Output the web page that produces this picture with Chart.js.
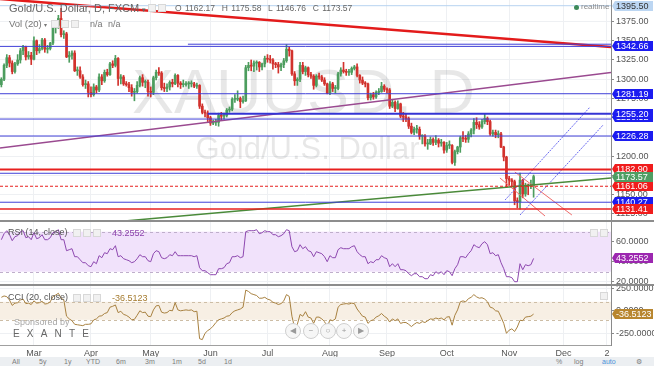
<!DOCTYPE html>
<html>
<head>
<meta charset="utf-8">
<title>XAUUSD, D</title>
<script src="https://cdn.jsdelivr.net/npm/chart.js@4.4.0/dist/chart.umd.min.js"></script>
<style>
  body { margin: 0; background: #fff; font-family: "Liberation Sans", Arial, sans-serif; }
  #wrap { position: relative; width: 654px; height: 366px; overflow: hidden; }
  canvas { position: absolute; left: 0; }
  .txt { position: absolute; white-space: nowrap; color: #555; line-height: 1; }
  .sep { position: absolute; left: 0; width: 654px; height: 2px; background: #8d8d8d; }
  .ico { position: absolute; width: 6px; height: 6px; border: 1px solid #d8d8d8; background: #f1f1f1; }
  .nav { position: absolute; width: 14px; height: 14px; border: 1px solid #cfcfcf; border-radius: 50%;
         background: #f6f6f6; color: #9a9a9a; font-size: 8px; line-height: 14px; text-align: center; }
  #toolbar { position: absolute; left: 0; top: 357px; width: 654px; height: 9px; background: #eceff2; }
  #toolbar span { position: absolute; top: 1px; font-size: 7px; color: #7d7d7d; }
</style>
</head>
<body>
<div id="wrap">
  <canvas id="priceChart" width="654" height="228" style="top:0"></canvas>
  <canvas id="rsiChart" width="654" height="75" style="top:216px"></canvas>
  <canvas id="cciChart" width="654" height="78" style="top:279px"></canvas>

  <div class="sep" style="top:220px"></div>
  <div class="sep" style="top:284px"></div>

  <div class="txt" style="left:9px;top:3px;font-size:11px;color:#666">Gold/U.S. Dollar, D, FXCM <span style="font-size:7px">▾</span></div>
  <div class="ico" style="left:148px;top:4px"></div>
  <div class="ico" style="left:158px;top:4px"></div>
  <div class="txt" style="left:175px;top:4px;font-size:8.5px;color:#666;word-spacing:1px">O 1162.17 &nbsp;H 1175.58 &nbsp;L 1146.76 &nbsp;C 1173.57</div>
  <div class="txt" style="left:9px;top:19px;font-size:9.5px;color:#777">Vol (20) <span style="font-size:6px">▾</span></div>
  <div class="ico" style="left:51px;top:20px"></div>
  <div class="ico" style="left:61px;top:20px"></div>
  <div class="ico" style="left:71px;top:20px"></div>
  <div class="txt" style="left:90px;top:20px;font-size:9px;color:#777">n/a</div>
  <div class="txt" style="left:108px;top:20px;font-size:9px;color:#777">n/a</div>
  <div style="position:absolute;left:574px;top:5px;width:5px;height:5px;border-radius:50%;background:#3d8a5a"></div>
  <div class="txt" style="left:581px;top:3px;font-size:8px;color:#8a8a8a">realtime</div>

  <div class="txt" style="left:8px;top:228px;font-size:9px;color:#555">RSI (14, close)</div>
  <div class="ico" style="left:73px;top:229px"></div>
  <div class="ico" style="left:83px;top:229px"></div>
  <div class="ico" style="left:93px;top:229px"></div>
  <div class="txt" style="left:112px;top:229px;font-size:9px;color:#8e44ad">43.2552</div>
  <div class="ico" style="left:590px;top:229px"></div>
  <div class="ico" style="left:600px;top:229px"></div>

  <div class="txt" style="left:8px;top:293px;font-size:9px;color:#555">CCI (20, close)</div>
  <div class="ico" style="left:73px;top:294px"></div>
  <div class="ico" style="left:83px;top:294px"></div>
  <div class="ico" style="left:93px;top:294px"></div>
  <div class="txt" style="left:112px;top:294px;font-size:9px;color:#a57b2e">-36.5123</div>
  <div class="ico" style="left:600px;top:292px"></div>

  <div class="txt" style="left:14px;top:318px;font-size:9px;color:#a8a8a8">Sponsored by</div>
  <div class="txt" style="left:13px;top:329px;font-size:10px;color:#666;letter-spacing:7.2px">EXANTE</div>

  <div class="nav" style="left:285px;top:323px">◀</div>
  <div class="nav" style="left:303px;top:323px">−</div>
  <div class="nav" style="left:320px;top:323px">○</div>
  <div class="nav" style="left:336px;top:323px">+</div>
  <div class="nav" style="left:353px;top:323px">▶</div>

  <div id="toolbar">
    <span style="left:12px">All</span><span style="left:39px">5y</span><span style="left:64px">1y</span>
    <span style="left:86px">YTD</span><span style="left:116px">6m</span><span style="left:145px">3m</span>
    <span style="left:172px">1m</span><span style="left:198px">5d</span><span style="left:224px">1d</span>
    <span style="left:556px">%</span><span style="left:574px">log</span>
    <span style="left:602px;color:#4a90d9">auto</span><span style="left:636px">⚙</span>
  </div>
</div>

<script>
const FONT = '"Liberation Sans", Arial, sans-serif';
const UP = '#4c9d5e';
const DOWN = '#d2322d';

// daily bars, 13 Feb 2014 .. 14 Nov 2014
const opens = [
  1293,1300,1318,1328,1321,1310,1320,1325,1337,1342,1329,1331,
  1326,1350,1337,1340,1351,1339,1340,1347,1367,1370,
  1379,1358,1359,1329,1331,1334,1311,1311,1303,1293,1294,
  1283,1280,1290,1286,1303,1298,1309,1306,1320,1318,
  1327,1301,1303,1294,1293,1289,1283,1284,1292,1302,1296,1296,1284,
  1283,1302,1309,1308,1289,1288,1290,1296,1294,1305,1295,1293,1293,1294,1294,1294,1291,
  1292,1265,1257,1256,1250,1243,1244,1244,1253,1252,1253,1260,1261,1274,1274,1275,1271,
  1272,1315,1318,1317,1321,1322,1316,1320,1327,1326,1325,1320,1319,1316,1319,1324,1339,
  1337,1307,1298,1300,1318,1310,1315,1306,1304,1292,1304,1303,1299,1294,
  1282,1294,1288,1288,1307,1312,1310,1309,1309,1314,1316,1305,1299,1295,1294,1276,1280,1277,1283,1284,1291,
  1287,1286,1265,1270,1262,1268,1252,1251,1249,1239,1231,1235,1235,1226,1226,1216,1216,1222,1218,1221,1217,1218,
  1208,1214,1214,1192,1206,1212,1224,1223,1222,1229,1234,1244,1241,1238,1245,1249,1245,1229,1231,1228,1229,1212,1199,
  1171,1169,1167,1142,1141,1169,1151,1162,1161,1162.17
];
const highs = [
  1302,1320,1332,1331,1324,1322,1332,1340,1344,1343,1336,1335,
  1355,1351,1345,1353,1353,1344,1348,1368,1373,1383,
  1392,1363,1361,1336,1337,1337,1316,1316,1306,1299,1297,
  1290,1294,1292,1307,1306,1312,1313,1322,1324,1331,
  1328,1306,1305,1297,1296,1293,1288,1297,1304,1306,1299,1299,1290,
  1304,1312,1315,1310,1295,1294,1298,1300,1307,1306,1297,1299,1297,1297,1298,1296,1295,
  1293,1268,1260,1259,1252,1247,1248,1256,1257,1256,1262,1264,1276,1280,1285,1277,1278,
  1318,1322,1325,1324,1324,1323,1321,1330,1332,1331,1327,1322,1322,1321,1327,1345,1342,
  1338,1310,1302,1322,1322,1317,1316,1309,1306,1306,1308,1305,1302,1295,
  1297,1296,1292,1309,1315,1322,1313,1313,1316,1318,1320,1306,1303,1297,1295,1282,1283,1285,1288,1296,1293,
  1289,1288,1274,1272,1272,1269,1257,1255,1251,1243,1238,1240,1238,1228,1228,1222,1225,1224,1227,1223,1222,1219,
  1218,1220,1215,1208,1213,1226,1232,1227,1232,1236,1249,1250,1245,1248,1255,1251,1247,1234,1234,1233,1231,1213,1200,
  1174,1171,1169,1146,1178,1170,1165,1164,1169,1175.58
];
const lows = [
  1290,1298,1315,1316,1307,1308,1318,1321,1332,1325,1326,1319,
  1325,1332,1334,1338,1335,1334,1338,1345,1360,1366,
  1355,1353,1328,1322,1326,1310,1305,1301,1291,1288,1277,
  1277,1278,1282,1284,1293,1296,1304,1305,1315,1316,
  1292,1294,1292,1291,1284,1278,1272,1282,1290,1291,1289,1278,1277,
  1280,1299,1305,1286,1284,1284,1286,1290,1293,1290,1288,1290,1291,1288,1290,1289,1288,
  1262,1255,1251,1245,1240,1241,1240,1239,1247,1248,1251,1257,1259,1270,1272,1263,1269,
  1271,1311,1311,1310,1312,1310,1312,1316,1322,1321,1313,1315,1308,1311,1315,1322,1330,
  1305,1292,1292,1297,1307,1305,1303,1301,1287,1290,1300,1297,1292,1281,
  1280,1284,1282,1286,1304,1308,1305,1305,1306,1312,1303,1295,1293,1290,1273,1273,1274,1275,1280,1283,1284,
  1282,1262,1263,1258,1261,1250,1245,1245,1236,1229,1228,1230,1222,1216,1213,1209,1215,1214,1215,1212,1213,1204,
  1205,1210,1190,1188,1203,1205,1219,1218,1218,1225,1229,1236,1235,1236,1242,1241,1227,1226,1224,1224,1211,1194,1161,
  1162,1161,1137,1133,1131.41,1146,1148,1150,1158,1146.76
];
const closes = [
  1300,1318,1328,1321,1310,1320,1325,1337,1342,1329,1331,1326,
  1350,1337,1340,1351,1339,1340,1347,1367,1370,1379,
  1358,1359,1329,1331,1334,1311,1311,1303,1293,1294,1283,
  1280,1290,1286,1303,1298,1309,1306,1320,1318,1327,
  1301,1303,1294,1293,1289,1283,1284,1292,1302,1296,1296,1284,1283,
  1302,1309,1308,1289,1288,1290,1296,1294,1305,1295,1293,1293,1294,1294,1294,1291,1292,
  1265,1257,1256,1250,1243,1244,1244,1253,1252,1253,1260,1261,1274,1274,1275,1271,1272,
  1315,1318,1317,1321,1322,1316,1320,1327,1326,1325,1320,1319,1316,1319,1324,1339,1337,
  1307,1298,1300,1318,1310,1315,1306,1304,1292,1304,1303,1299,1294,1282,
  1294,1288,1288,1307,1312,1310,1309,1309,1314,1316,1305,1299,1295,1294,1276,1280,1277,1283,1284,1291,1287,
  1286,1265,1270,1262,1268,1252,1251,1249,1239,1231,1235,1235,1226,1226,1216,1216,1222,1218,1221,1217,1218,1208,
  1214,1214,1192,1206,1212,1224,1223,1222,1229,1234,1244,1241,1238,1245,1249,1245,1229,1231,1228,1229,1212,1199,1171,
  1169,1167,1142,1141,1169,1151,1162,1161,1162,1173.57
];
const rsiValues = [
  62,68,71,67,61,65,66,70,71,64,65,62,
  69,63,64,67,62,62,64,69,70,72,
  62,62,51,52,53,45,45,42,39,39,36,
  35,40,38,46,44,49,48,53,52,56,
  45,46,43,42,41,39,40,43,47,45,45,41,40,
  48,51,50,44,43,44,47,46,50,46,46,46,46,46,46,45,46,
  34,31,31,29,27,27,27,33,33,34,38,39,45,45,46,44,45,
  70,71,71,71,72,68,69,71,70,70,67,67,65,66,68,72,71,
  55,50,51,57,53,55,51,50,45,50,49,48,45,40,
  46,44,44,52,54,53,53,53,55,56,50,47,45,45,38,40,39,42,42,46,44,
  43,35,38,35,38,32,32,31,28,26,28,28,25,25,23,23,27,26,30,28,30,27,
  31,30,26,33,37,45,45,44,48,51,57,55,54,58,60,57,48,49,46,47,39,33,25,
  25,24,20,20,38,32,37,36,37,43.2552
];
const cciValues = [
  150,165,157,120,60,85,90,120,130,80,85,70,
  110,85,90,105,75,80,100,160,175,195,
  140,120,-60,-90,-110,-150,-155,-160,-165,-150,-150,
  -145,-102,-90,-60,-55,-30,-20,40,50,65,
  -20,-5,-40,-50,-70,-100,-95,-50,0,-20,-15,-60,-65,
  10,55,60,-15,-25,-20,5,0,90,10,0,5,10,5,10,-10,-5,
  -310,-320,-250,-220,-200,-170,-130,-100,-90,-80,-60,-55,-20,0,10,20,40,
  230,215,190,180,170,140,140,150,130,120,95,85,70,80,110,180,160,
  -60,-190,-150,-40,-60,-10,-70,-80,-140,-70,-70,-90,-120,-180,
  -100,-110,-90,40,70,75,80,75,85,80,20,-20,-60,-70,-140,-110,-100,-70,-55,-30,-60,
  -80,-125,-90,-110,-90,-140,-130,-130,-150,-175,-150,-130,-140,-120,-130,-110,-90,-95,-80,-90,-80,-100,
  -70,-65,-160,-50,10,100,110,100,135,150,180,155,140,145,130,100,40,30,0,-5,-70,-140,-250,
  -215,-200,-230,-180,-105,-110,-70,-65,-60,-36.5123
];

// x axis: bar slots (history + empty future slots), month marks
const slotCount = 225;
const monthTickIdx = [12, 33, 55, 77, 98, 121, 142, 164, 187, 207, 223];
const monthTickLabels = ['Mar', 'Apr', 'May', 'Jun', 'Jul', 'Aug', 'Sep', 'Oct', 'Nov', 'Dec', '2'];

// y ranges / ticks of the three panes
const priceRange = [1114.61, 1402.92];
const priceTicks = [1125, 1150, 1175, 1200, 1225, 1250, 1275, 1300, 1325, 1350, 1375];
const rsiRange = [16.7, 79.7];
const rsiTicks = [20, 40, 60];
const rsiBand = [30, 70];
const cciRange = [-380, 286.7];
const cciTicks = [-250, 0, 250];
const cciBand = [-100, 100];

// horizontal levels: price, first bar slot
const levelPrices = [1395.50, 1345.5, 1342.66, 1281.19, 1248.3, 1255.20, 1226.28, 1182.90, 1177.9, 1161.06, 1140.27, 1131.41];
const levelStarts = [-0.5, 68.7, -0.5, -0.5, -0.5, 76, -0.5, -0.5, -0.5, -0.5, -0.5, -0.5];
const levelStyle = ['light', 'blue', 'blue', 'blue', 'blue', 'blueBold', 'blue', 'redBold', 'blue', 'redDash', 'blue', 'red'];

// drawn trend lines: [slot, price] -> [slot, price]
const trendStarts = [[-0.5, 1404.2], [-0.5, 1210.7], [-0.5, 1101.6], [185.5, 1143.2], [191.0, 1123.7], [183.6, 1171.8], [189.1, 1179.5]];
const trendEnds = [[224.5, 1341.9], [224.5, 1308.8], [224.5, 1171.8], [216.8, 1264.0], [221.6, 1240.6], [200.2, 1122.4], [210.1, 1123.7]];
const trendStyle = ['redThick', 'purple', 'green', 'channel', 'channel', 'thinRed', 'thinRed'];

// price axis tags
const tagValues = [1395.50, 1342.66, 1281.19, 1250.52, 1255.20, 1226.28, 1140.27, 1131.41, 1161.06, 1182.90, 1173.57];
const tagStyle = ['light', 'blue', 'blue', 'blue', 'blue', 'blue', 'blue', 'red', 'red', 'red', 'green'];

const STYLES = {
  light: { color: '#b7d3f0', width: 1 },
  blue: { color: '#4040d8', width: 1 },
  blueBold: { color: '#3434d4', width: 2 },
  red: { color: '#e8201f', width: 1.5 },
  redBold: { color: '#e8201f', width: 2 },
  redDash: { color: '#e8201f', width: 1.2, dash: [3, 2] },
  redThick: { color: '#e31b1b', width: 2.5 },
  purple: { color: '#9a4a90', width: 1.5 },
  green: { color: '#4a8a3a', width: 1.5 },
  channel: { color: '#6a6af0', width: 1, dash: [2, 1] },
  thinRed: { color: '#ee6a6a', width: 1 }
};
const TAGS = {
  light: ['#bcd6f2', '#333'],
  blue: ['#1c1cf0', '#fff'],
  red: ['#f01c1c', '#fff'],
  green: ['#4f9e63', '#fff']
};

function xScale(showLabels) {
  return {
    type: 'linear',
    bounds: 'data',
    offset: false,
    min: -0.5,
    max: slotCount - 0.5,
    afterBuildTicks: s => { s.ticks = monthTickIdx.map(v => ({ value: v })); },
    grid: { color: '#eef0f3', drawTicks: false, offset: false },
    border: { display: showLabels, color: '#a0a0a0' },
    ticks: {
      display: showLabels, autoSkip: false, maxRotation: 0, padding: 3,
      color: '#555', font: { size: 9, family: FONT },
      callback: v => monthTickLabels[monthTickIdx.indexOf(v)]
    },
    afterFit: s => { s.height = showLabels ? 12 : 0; s.paddingLeft = 0; s.paddingRight = 0; }
  };
}

function yScale(range, ticks, digits) {
  return {
    type: 'linear',
    position: 'right',
    bounds: 'data',
    min: range[0],
    max: range[1],
    afterBuildTicks: s => { s.ticks = ticks.map(v => ({ value: v })); },
    grid: { color: '#eef0f3', tickLength: 3, tickColor: '#8a8a8a' },
    border: { color: '#8a8a8a' },
    ticks: { padding: 2, color: '#555', font: { size: 9, family: FONT }, callback: v => v.toFixed(digits) },
    afterFit: s => { s.width = 43; s.paddingTop = 0; s.paddingBottom = 0; }
  };
}

function drawTag(chart, value, text, bg, fg) {
  const ctx = chart.ctx;
  const y = Math.round(chart.scales.y.getPixelForValue(value));
  const x0 = chart.chartArea.right + 1;
  ctx.save();
  ctx.fillStyle = bg;
  ctx.beginPath();
  ctx.moveTo(x0, y);
  ctx.lineTo(x0 + 3, y - 5);
  ctx.lineTo(x0 + 41, y - 5);
  ctx.lineTo(x0 + 41, y + 5);
  ctx.lineTo(x0 + 3, y + 5);
  ctx.closePath();
  ctx.fill();
  ctx.fillStyle = fg;
  ctx.font = '9px ' + FONT;
  ctx.textBaseline = 'middle';
  ctx.fillText(text, x0 + 4, y + 0.5);
  ctx.restore();
}

function lineSet(p0, p1, style) {
  const st = STYLES[style];
  return {
    type: 'line',
    data: [{ x: p0[0], y: p0[1] }, { x: p1[0], y: p1[1] }],
    borderColor: st.color,
    borderWidth: st.width,
    borderDash: st.dash || [],
    pointRadius: 0,
    clip: 0,
    order: 1
  };
}

function bandPlugin(band, fill, dashColor) {
  return {
    id: 'band',
    beforeDatasetsDraw(chart) {
      const { ctx, chartArea, scales } = chart;
      const yTop = scales.y.getPixelForValue(band[1]);
      const yBot = scales.y.getPixelForValue(band[0]);
      ctx.save();
      ctx.fillStyle = fill;
      ctx.fillRect(chartArea.left, yTop, chartArea.right - chartArea.left, yBot - yTop);
      ctx.strokeStyle = dashColor;
      ctx.setLineDash([3, 3]);
      ctx.lineWidth = 1;
      [yTop, yBot].forEach(y => {
        ctx.beginPath();
        ctx.moveTo(chartArea.left, Math.round(y) + 0.5);
        ctx.lineTo(chartArea.right, Math.round(y) + 0.5);
        ctx.stroke();
      });
      ctx.restore();
    }
  };
}

const candleColor = c => (closes[c.dataIndex] >= opens[c.dataIndex] ? UP : DOWN);

const priceDatasets = [
  {
    data: closes.map((_, i) => ({ x: i, y: [lows[i], highs[i]] })),
    backgroundColor: candleColor, barThickness: 1, grouped: false, order: 10
  },
  {
    data: closes.map((c, i) => ({ x: i, y: [Math.min(opens[i], c), Math.max(opens[i], c)] })),
    backgroundColor: candleColor, barThickness: 2, minBarLength: 1, grouped: false, order: 9
  }
];
levelPrices.forEach((p, i) => {
  priceDatasets.push(lineSet([levelStarts[i], p], [slotCount - 0.5, p], levelStyle[i]));
});
trendStarts.forEach((p0, i) => priceDatasets.push(lineSet(p0, trendEnds[i], trendStyle[i])));

new Chart(document.getElementById('priceChart'), {
  type: 'bar',
  data: { datasets: priceDatasets },
  options: {
    responsive: false,
    animation: false,
    devicePixelRatio: 1,
    layout: { padding: { top: 0, bottom: 6, left: 0, right: 0 } },
    plugins: { legend: { display: false }, tooltip: { enabled: false } },
    scales: { x: xScale(false), y: yScale(priceRange, priceTicks, 2) }
  },
  plugins: [{
    id: 'overlay',
    beforeDatasetsDraw(chart) {
      const { ctx, chartArea } = chart;
      const cx = (chartArea.left + chartArea.right) / 2;
      ctx.save();
      ctx.fillStyle = 'rgba(0,0,0,0.095)';
      ctx.textAlign = 'center';
      ctx.font = '63px ' + FONT;
      ctx.fillText('XAUUSD, D', cx - 2, 113);
      ctx.font = '31px ' + FONT;
      ctx.fillText('Gold/U.S. Dollar', cx + 2, 159);
      ctx.restore();
    },
    afterDraw(chart) {
      tagValues.forEach((v, i) => {
        const [bg, fg] = TAGS[tagStyle[i]];
        drawTag(chart, v, v.toFixed(2), bg, fg);
      });
    }
  }]
});

new Chart(document.getElementById('rsiChart'), {
  type: 'line',
  data: {
    datasets: [{
      data: rsiValues.map((v, i) => ({ x: i, y: v })),
      borderColor: '#8e48b0', borderWidth: 1, pointRadius: 0, clip: 0
    }]
  },
  options: {
    responsive: false,
    animation: false,
    devicePixelRatio: 1,
    layout: { padding: { top: 6, bottom: 6, left: 0, right: 0 } },
    plugins: { legend: { display: false }, tooltip: { enabled: false } },
    scales: { x: xScale(false), y: yScale(rsiRange, rsiTicks, 4) }
  },
  plugins: [bandPlugin(rsiBand, '#f1e2fb', '#bfaecb'), {
    id: 'rsiTag',
    afterDraw(chart) { drawTag(chart, 43.2552, '43.2552', '#9c27b0', '#fff'); }
  }]
});

new Chart(document.getElementById('cciChart'), {
  type: 'line',
  data: {
    datasets: [{
      data: cciValues.map((v, i) => ({ x: i, y: v })),
      borderColor: '#a88140', borderWidth: 1, pointRadius: 0, clip: 0
    }]
  },
  options: {
    responsive: false,
    animation: false,
    devicePixelRatio: 1,
    layout: { padding: { top: 6, bottom: 0, left: 0, right: 0 } },
    plugins: { legend: { display: false }, tooltip: { enabled: false } },
    scales: { x: xScale(true), y: yScale(cciRange, cciTicks, 4) }
  },
  plugins: [bandPlugin(cciBand, '#f7efe4', '#cdbda5'), {
    id: 'cciTag',
    afterDraw(chart) { drawTag(chart, -36.5123, '-36.5123', '#b8862f', '#fff'); }
  }]
});
</script>
</body>
</html>
